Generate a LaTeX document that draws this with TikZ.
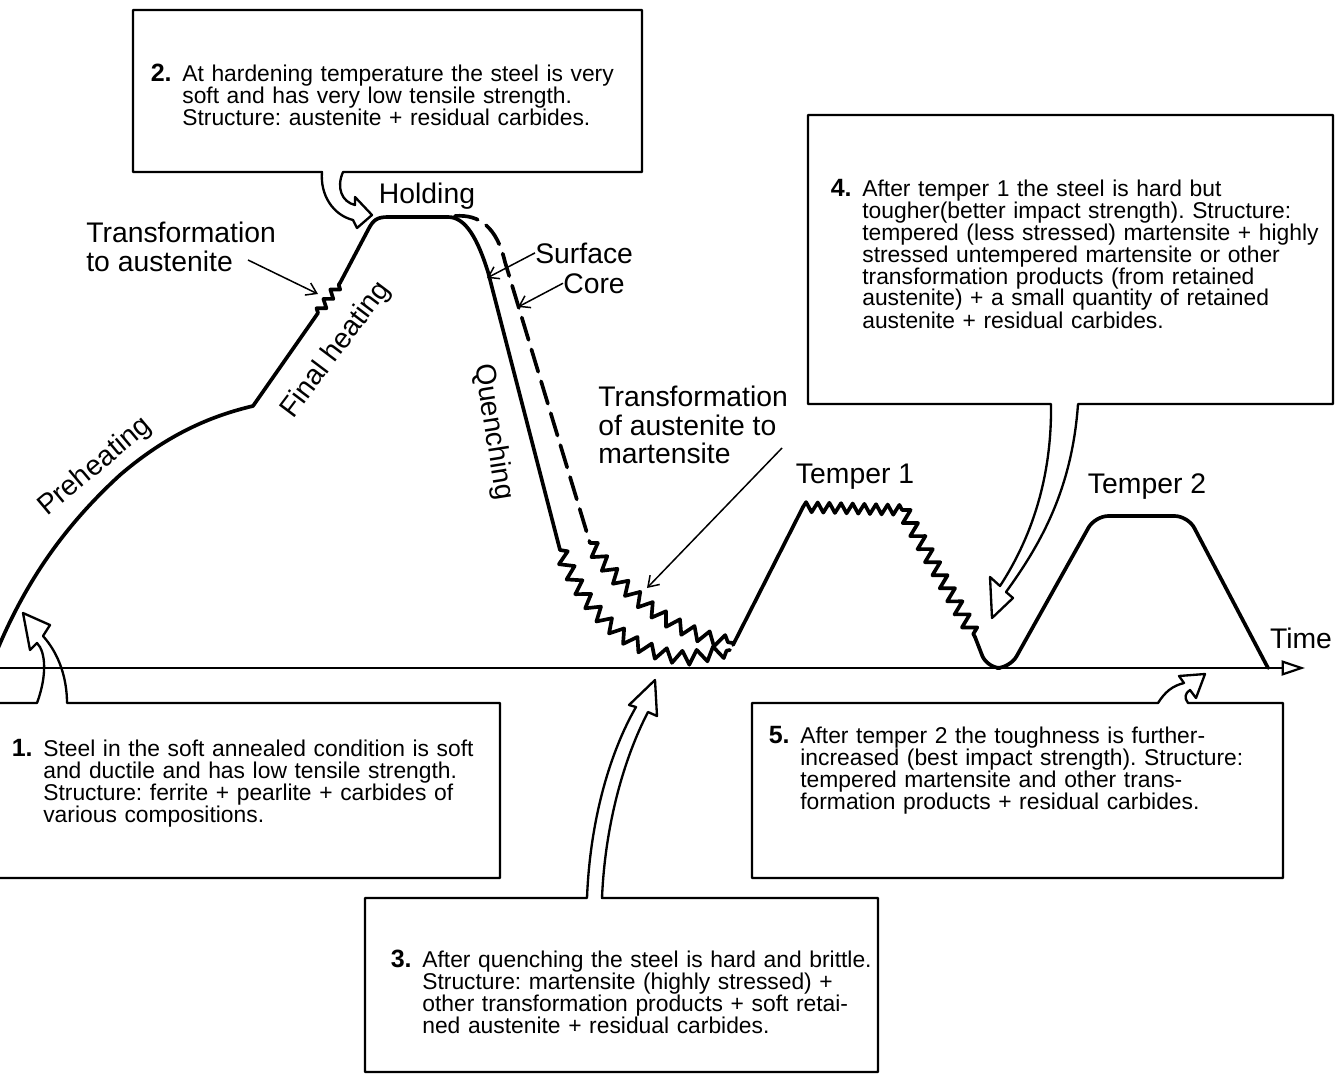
\documentclass[tikz,border=0pt]{standalone}
\usepackage{fontspec}
\setmainfont{Liberation Sans}
\usetikzlibrary{arrows.meta,decorations.pathmorphing}
\frenchspacing

\begin{document}
\begin{tikzpicture}[x=0.6pt,y=-0.6pt,
  curve/.style={line width=2.2pt,line join=round,line cap=round},
  zig/.style args={#1/#2}{curve,decorate,decoration={zigzag,segment length=#1,amplitude=#2}},
  core/.style={curve,dash pattern=on 14pt off 6pt},
  axis/.style={line width=1.3pt,-{Triangle[open,length=14pt,width=9pt,line width=1.3pt]}},
  box/.style={line width=1.4pt,line join=round},
  pointer/.style={line width=0.9pt,-{Straight Barb[length=6pt,width=8pt]}},
  lbl/.style={font=\fontsize{17}{17.2}\selectfont,inner sep=0pt},
  note/.style={font=\fontsize{13.7}{13.2}\selectfont,align=left,text width=300pt,anchor=base west,inner sep=0pt},
  num/.style={font=\fontsize{15}{15}\selectfont\bfseries,anchor=base east,inner sep=0pt}]

  \useasboundingbox (0,0) rectangle (1336,1082);
  \fill[white] (0,0) rectangle (1336,1082);
  \clip (0,0) rectangle (1336,1082);

  % time axis
  \draw[axis] (0,668) -- (1305,668);

  % hardening curve
  \draw[curve] (-10,668) .. controls (20,590) and (60,530) .. (120,475)
     .. controls (170,432) and (215,415) .. (253,406) -- (318,313);
  \draw[zig=7pt/2.4pt] (318,313) -- (340,283);
  \draw[curve] (340,283) -- (368,230) .. controls (373,220) and (377,217) .. (388,217) -- (448,217)
     .. controls (466,217) and (478,240) .. (488,272) -- (560,550);
  \draw[core] (455,216) .. controls (480,214) and (497,228) .. (505,262) -- (590,543);
  % quenching, surface and core
  \draw[zig=10pt/4pt] (560,550) .. controls (585,610) and (625,655) .. (690,658) -- (730,650);
  \draw[zig=10pt/4pt] (590,543) .. controls (620,590) and (670,635) .. (733,643);
  % tempering
  \draw[curve] (733,645) -- (803,507);
  \draw[zig=7pt/3pt] (803,507) -- (903,510);
  \draw[zig=9pt/4pt] (903,510) -- (975,637);
  \draw[curve,rounded corners=8pt] (975,637) -- (987,668) -- (1010,668) -- (1095,516) -- (1188,516) -- (1268,668);

  % labels
  \node[lbl,anchor=base] (hold) at (427,203) {Holding};
  \node[lbl,align=left,anchor=west] (trans) at (86,247) {Transformation\\to austenite};
  \node[lbl,rotate=53] (fin) at (336,350) {Final heating};
  \node[lbl,rotate=40] (pre) at (95,467) {Preheating};
  \node[lbl,rotate=-81] (que) at (493,432) {Quenching};
  \node[lbl,anchor=base west] (surf) at (535,263) {Surface};
  \node[lbl,anchor=base west] (core) at (563,293) {Core};
  \node[lbl,align=left,anchor=west] (mart) at (598,425) {Transformation\\of austenite to\\martensite};
  \node[lbl,anchor=base] (tem1) at (855,483) {Temper 1};
  \node[lbl,anchor=base] (tem2) at (1147,493) {Temper 2};
  \node[lbl,anchor=base] (time) at (1301,648) {Time};

  \coordinate (ausfrom) at (248,260);
  \coordinate (austo) at (318,294);
  \coordinate (surfto) at (487,278);
  \coordinate (coreto) at (518,307);
  \coordinate (martfrom) at (782,448);
  \coordinate (martto) at (647,588);
  \draw[pointer] (ausfrom) -- (austo);
  \draw[pointer] (surf.west) -- (surfto);
  \draw[pointer] (core.west) -- (coreto);
  \draw[pointer] (martfrom) -- (martto);

  % callout boxes
  \draw[box] (67,703) -- (500,703) -- (500,878) -- (-10,878) -- (-10,703) -- (37,703)
     .. controls (47,676) and (46,652) .. (37,643) -- (30,650) -- (23,613) -- (50,625) -- (43,636)
     .. controls (60,655) and (67,680) .. cycle;
  \draw[box] (343,172) -- (642,172) -- (642,10) -- (133,10) -- (133,172) -- (322,172)
     .. controls (320,195) and (333,215) .. (353,220) -- (357,228) -- (372,215) -- (355,197) -- (355,205)
     .. controls (342,202) and (336,188) .. cycle;
  \draw[box] (602,898) -- (878,898) -- (878,1072) -- (365,1072) -- (365,898) -- (587,898)
     .. controls (590,820) and (610,752) .. (636,707) -- (629,705) -- (655,680) -- (657,716) -- (648,712)
     .. controls (624,758) and (605,825) .. cycle;
  \draw[box] (1078,404) -- (1333,404) -- (1333,115) -- (808,115) -- (808,404) -- (1051,404)
     .. controls (1052,480) and (1030,540) .. (1000,586) -- (990,577) -- (992,618) -- (1013,598) -- (1006,592)
     .. controls (1040,545) and (1072,490) .. cycle;
  \draw[box] (1188,703) -- (1283,703) -- (1283,878) -- (752,878) -- (752,703) -- (1158,703)
     .. controls (1165,692) and (1172,686) .. (1184,683) -- (1179,676) -- (1205,674) -- (1196,698) -- (1190,690)
     .. controls (1185,693) and (1184,698) .. cycle;

  % texts of the boxes
  \node[note] (t1) at (43,756) {Steel in the soft annealed condition is soft\\and ductile and has low tensile strength.\\Structure: ferrite + pearlite + carbides of\\various compositions.};
  \node[num] (n1) at ([xshift=-6pt]t1.base west) {1.};
  \node[note] (t2) at (182,82) {At hardening temperature the steel is very\\soft and has very low tensile strength.\\Structure: austenite + residual carbides.};
  \node[num] (n2) at ([xshift=-6pt]t2.base west) {2.};
  \node[note] (t3) at (422,967) {After quenching the steel is hard and brittle.\\Structure: martensite (highly stressed) +\\other transformation products + soft retai-\\ned austenite + residual carbides.};
  \node[num] (n3) at ([xshift=-6pt]t3.base west) {3.};
  \node[note] (t4) at (862,196) {After temper 1 the steel is hard but\\tougher(better impact strength). Structure:\\tempered (less stressed) martensite + highly\\stressed untempered martensite or other\\transformation products (from retained\\austenite) + a small quantity of retained\\austenite + residual carbides.};
  \node[num] (n4) at ([xshift=-6pt]t4.base west) {4.};
  \node[note] (t5) at (800,743) {After temper 2 the toughness is further-\\increased (best impact strength). Structure:\\tempered martensite and other trans-\\formation products + residual carbides.};
  \node[num] (n5) at ([xshift=-6pt]t5.base west) {5.};

\end{tikzpicture}
\end{document}
